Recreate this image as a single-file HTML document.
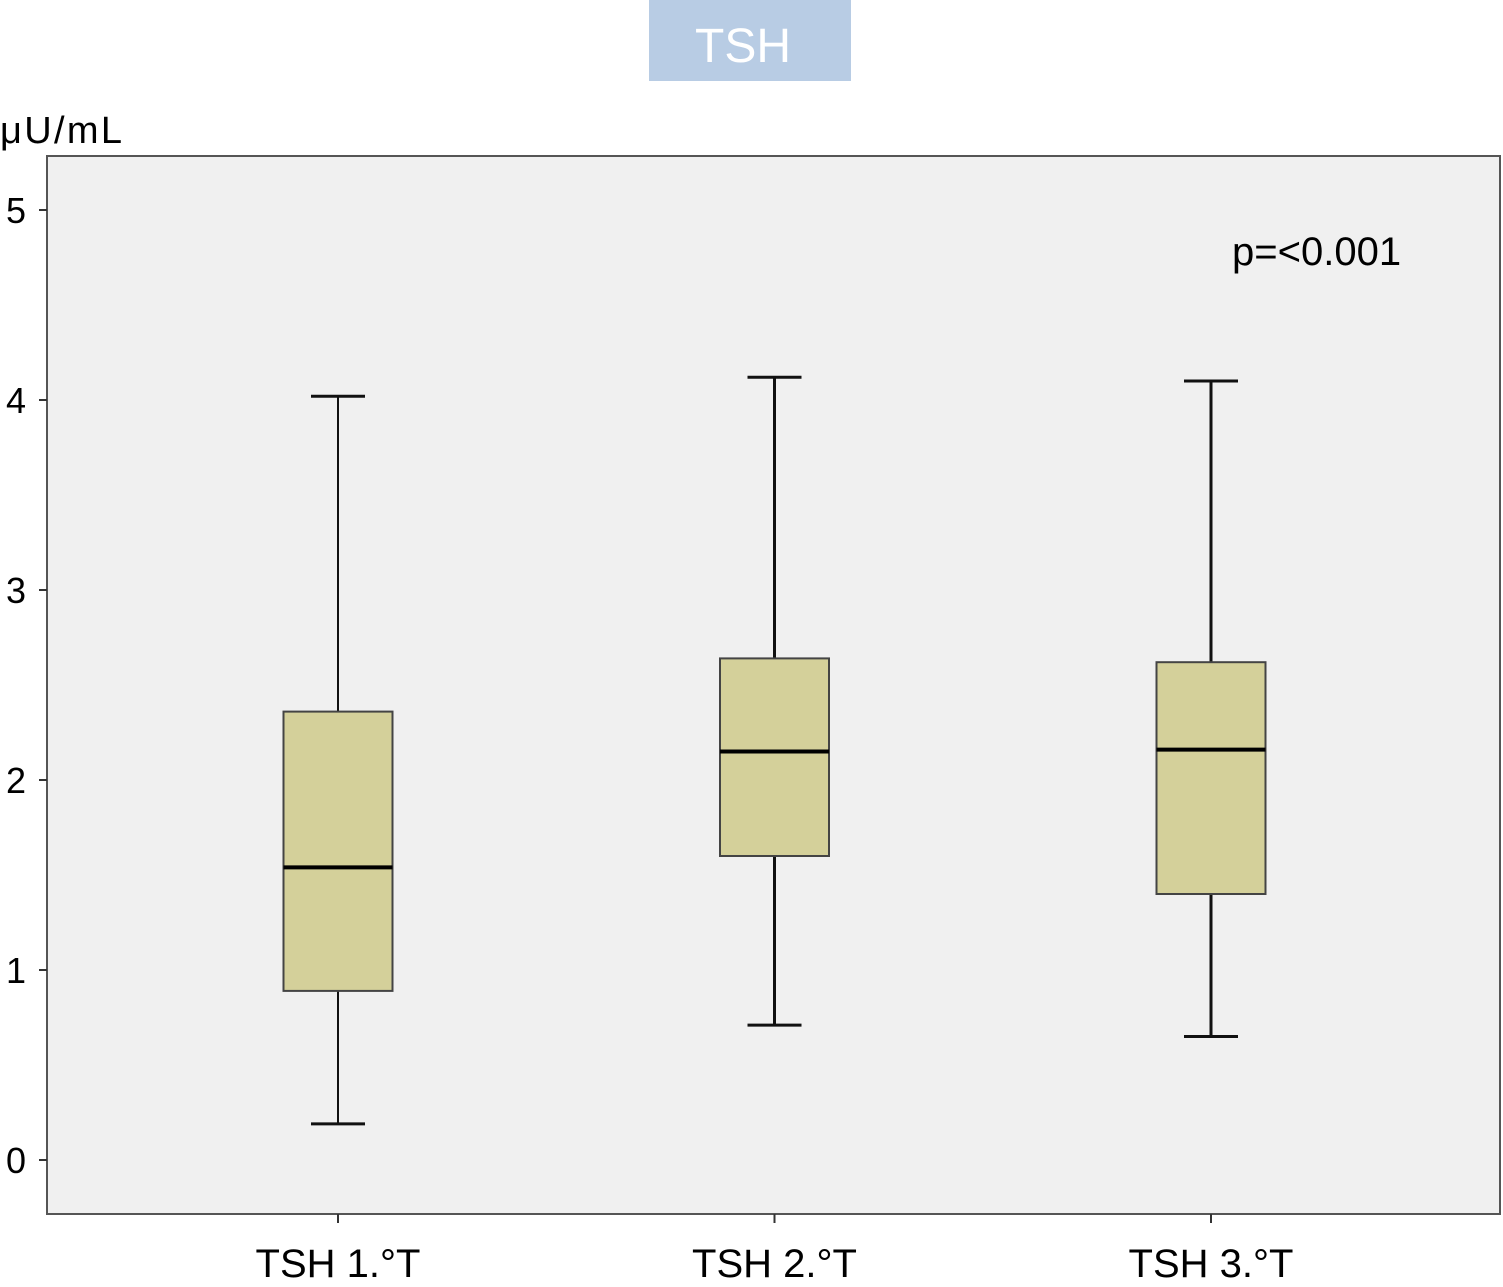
<!DOCTYPE html>
<html><head><meta charset="utf-8">
<style>
body{margin:0;background:#fff;}
svg{display:block;font-family:"Liberation Sans",Arial,sans-serif;}
</style></head>
<body>
<svg id="chart" width="1503" height="1287" viewBox="0 0 1503 1287">
  <rect x="649" y="0" width="202" height="81" fill="#b8cce4"/>
  <text x="743" y="62" font-size="48" fill="#fff" text-anchor="middle">TSH</text>
  <text x="0" y="143" font-size="38" fill="#000" textLength="122">μU/mL</text>
  <rect x="47" y="156" width="1453" height="1058" fill="#f0f0f0" stroke="#555" stroke-width="2"/>
  <text x="1232" y="265" font-size="40" fill="#000">p=&lt;0.001</text>
  <g id="marks"></g>
</svg>
<script>
const categories = ["TSH 1.°T", "TSH 2.°T", "TSH 3.°T"];
const whiskerLow = [0.19, 0.71, 0.65];
const q1 = [0.89, 1.60, 1.40];
const median = [1.54, 2.15, 2.16];
const q3 = [2.36, 2.64, 2.62];
const whiskerHigh = [4.02, 4.12, 4.10];
const yTicks = [0, 1, 2, 3, 4, 5];

const NS = "http://www.w3.org/2000/svg";
const g = document.getElementById("marks");
function y(v){ return 1160 - v * 190; }
function x(i){ return 338 + i * 436.5; }
function mk(tag, attrs){
  const e = document.createElementNS(NS, tag);
  for (const k in attrs) e.setAttribute(k, attrs[k]);
  g.appendChild(e);
  return e;
}
yTicks.forEach(t => {
  const l = mk("line", {x1:39, x2:47, y1:y(t), y2:y(t), stroke:"#333", "stroke-width":2});
  
  
  const tx = mk("text", {x:26, y:y(t)+13, "font-size":36, "text-anchor":"end", fill:"#000"});
  tx.textContent = t;
  
  
});
categories.forEach((c, i) => {
  const cx = x(i), bw = 109, cw = 54;
  const tk = mk("line", {x1:cx, x2:cx, y1:1214, y2:1223, stroke:"#333", "stroke-width":2});
  
  
  const lbl = mk("text", {x:cx, y:1277, "font-size":40, "text-anchor":"middle", fill:"#000"});
  lbl.textContent = c;
  
  
  const sw = i === 0 ? 2 : 3;
  const w1 = mk("line", {x1:cx, x2:cx, y1:y(whiskerHigh[i]), y2:y(q3[i]), stroke:"#111", "stroke-width":sw});
  
  
  const w2 = mk("line", {x1:cx, x2:cx, y1:y(q1[i]), y2:y(whiskerLow[i]), stroke:"#111", "stroke-width":sw});
  
  
  const c1 = mk("line", {x1:cx-cw/2, x2:cx+cw/2, y1:y(whiskerHigh[i]), y2:y(whiskerHigh[i]), stroke:"#111", "stroke-width":3});
  
  
  const c2 = mk("line", {x1:cx-cw/2, x2:cx+cw/2, y1:y(whiskerLow[i]), y2:y(whiskerLow[i]), stroke:"#111", "stroke-width":3});
  
  
  const b = mk("rect", {x:cx-bw/2, y:y(q3[i]), width:bw, height:y(q1[i])-y(q3[i]), fill:"#d4d09a", stroke:"#444", "stroke-width":2});
  
  
  const m = mk("line", {x1:cx-bw/2, x2:cx+bw/2, y1:y(median[i]), y2:y(median[i]), stroke:"#000", "stroke-width":4});
  
  
});
</script>
</body></html>
